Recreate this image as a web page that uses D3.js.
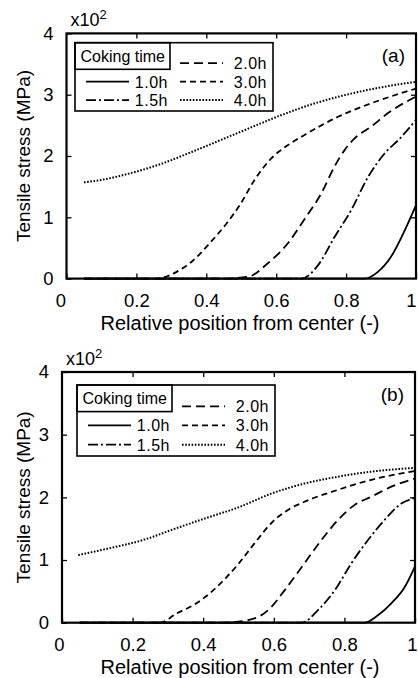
<!DOCTYPE html>
<html>
<head>
<meta charset="utf-8">
<script src="https://cdn.jsdelivr.net/npm/d3@7"></script>
<style>
  body { margin: 0; background: #fff; }
  svg { display: block; }
  text { font-family: "Liberation Sans", Arial, sans-serif; fill: #000; }
</style>
</head>
<body>
<svg id="chart" width="418" height="678"></svg>
<script>
// Series names and tick labels
const seriesNames = ["1.0h", "1.5h", "2.0h", "3.0h", "4.0h"];
const xTicks = [0, 0.2, 0.4, 0.6, 0.8, 1];
const yTicks = [0, 1, 2, 3, 4];

// Panel (a): position (-) and stress (x10^2 MPa)
const posA10 = [0.05, 0.853, 0.891, 0.929, 0.968, 1.0];
const valA10 = [0, 0, 0.11, 0.36, 0.79, 1.20];
const posA15 = [0.05, 0.672, 0.72, 0.767, 0.815, 0.863, 0.91, 0.958, 1.0];
const valA15 = [0, 0, 0.22, 0.68, 1.12, 1.66, 2.04, 2.31, 2.59];
const posA20 = [0.05, 0.45, 0.52, 0.576, 0.634, 0.68, 0.729, 0.767, 0.796, 0.825, 0.872, 0.92, 1.0];
const valA20 = [0, 0, 0.03, 0.25, 0.58, 0.96, 1.39, 1.83, 2.10, 2.29, 2.48, 2.70, 2.97];
const posA30 = [0.05, 0.2, 0.258, 0.315, 0.363, 0.41, 0.458, 0.496, 0.538, 0.586, 0.634, 0.68, 0.777, 0.872, 1.0];
const valA30 = [0, 0, 0, 0.11, 0.30, 0.58, 0.90, 1.20, 1.61, 1.96, 2.18, 2.34, 2.64, 2.86, 3.10];
const posA40 = [0.05, 0.1, 0.17, 0.27, 0.36, 0.5, 0.63, 0.7, 0.78, 0.9, 1.0];
const valA40 = [1.57, 1.61, 1.70, 1.87, 2.07, 2.40, 2.70, 2.84, 2.97, 3.12, 3.21];

// Panel (b)
const posB10 = [0.05, 0.857, 0.895, 0.933, 0.971, 1.0];
const valB10 = [0, 0, 0.12, 0.31, 0.57, 0.90];
const posB15 = [0.05, 0.678, 0.725, 0.773, 0.82, 0.867, 0.914, 0.961, 1.0];
const valB15 = [0, 0, 0.2, 0.52, 0.95, 1.32, 1.64, 1.90, 1.99];
const posB20 = [0.05, 0.45, 0.527, 0.584, 0.631, 0.687, 0.735, 0.782, 0.829, 0.876, 0.933, 1.0];
const valB20 = [0, 0, 0.04, 0.2, 0.52, 0.95, 1.32, 1.64, 1.88, 2.01, 2.17, 2.30];
const posB30 = [0.05, 0.2, 0.278, 0.325, 0.372, 0.419, 0.467, 0.5, 0.546, 0.593, 0.64, 0.687, 0.782, 0.876, 1.0];
const valB30 = [0, 0, 0, 0.15, 0.28, 0.47, 0.73, 0.94, 1.27, 1.59, 1.80, 1.93, 2.12, 2.28, 2.42];
const posB40 = [0.046, 0.136, 0.23, 0.325, 0.419, 0.5, 0.593, 0.687, 0.782, 0.876, 1.0];
const valB40 = [1.08, 1.19, 1.32, 1.51, 1.69, 1.84, 2.06, 2.22, 2.33, 2.41, 2.47];

// line styles, same order as seriesNames
const dashes = ["none", "10,3,2,3", "9,5", "6,4", "1.6,1.6"];

const svg = d3.select("#chart");

function zipSeries(pos, val) {
  return pos.map((p, i) => ({ x: p, y: val[i] }));
}

function drawPanel(opts) {
  const g = svg.append("g");
  const x = d3.scaleLinear().domain([0, 1]).range([opts.left, opts.right]);
  const y = d3.scaleLinear().domain([0, 4]).range([opts.bottom, opts.top]);

  // inward ticks
  const xAxis = g.append("g")
    .attr("transform", `translate(0,${opts.bottom})`)
    .call(d3.axisBottom(x).tickValues(xTicks).tickSizeInner(-5).tickSizeOuter(0).tickPadding(15)
      .tickFormat(d => d === 0 ? "0" : d === 1 ? "1" : d3.format(".1f")(d)));
  xAxis.selectAll("text").attr("font-size", 18.5)
    .attr("dx", d => d === 0 ? opts.dx0 : d === 1 ? opts.dx1 : 0);

  const yAxis = g.append("g")
    .attr("transform", `translate(${opts.left},0)`)
    .call(d3.axisLeft(y).tickValues(yTicks).tickFormat(d3.format("d"))
      .tickSizeInner(-5).tickSizeOuter(0).tickPadding(13));
  yAxis.selectAll("text").attr("font-size", 18.5);

  g.append("g")
    .attr("transform", `translate(0,${opts.top})`)
    .call(d3.axisTop(x).tickValues([0.2, 0.4, 0.6, 0.8]).tickSizeInner(-5).tickSizeOuter(0).tickFormat(""));
  g.append("g")
    .attr("transform", `translate(${opts.right},0)`)
    .call(d3.axisRight(y).tickValues([1, 2, 3]).tickSizeInner(-5).tickSizeOuter(0).tickFormat(""));

  g.selectAll(".domain").remove();
  g.selectAll(".tick line").attr("stroke", "#000").attr("stroke-width", 1.3);

  // curves
  const line = d3.line().x(d => x(d.x)).y(d => y(d.y)).curve(d3.curveMonotoneX);
  opts.series.forEach((s, i) => {
    g.append("path")
      .datum(s)
      .attr("fill", "none")
      .attr("stroke", "#000")
      .attr("stroke-width", i === 4 ? 2 : 1.8)
      .attr("stroke-dasharray", dashes[i])
      .attr("d", line);
  });

  // frame
  g.append("rect")
    .attr("x", opts.left).attr("y", opts.top)
    .attr("width", opts.right - opts.left).attr("height", opts.bottom - opts.top)
    .attr("fill", "none").attr("stroke", "#000").attr("stroke-width", 2.2);

  // legend
  const lg = g.append("g").attr("transform", `translate(${opts.legX},${opts.legY})`);
  lg.append("rect").attr("width", 198).attr("height", opts.legH)
    .attr("fill", "#fff").attr("stroke", "#000").attr("stroke-width", 1.6);
  lg.append("rect").attr("width", 95).attr("height", 26.6)
    .attr("fill", "none").attr("stroke", "#000").attr("stroke-width", 1.6);
  lg.append("text").attr("x", 5.5).attr("y", 19).attr("font-size", 16).text("Coking time");

  const slots = [
    { x: 11, end: 93, y: opts.legH * 0.57 },
    { x: 11, end: 93, y: opts.legH * 0.84 },
    { x: 105, end: 192, y: opts.legH * 0.30 },
    { x: 105, end: 192, y: opts.legH * 0.57 },
    { x: 105, end: 192, y: opts.legH * 0.84 }
  ];
  seriesNames.forEach((name, i) => {
    const s = slots[i];
    lg.append("line")
      .attr("x1", s.x).attr("x2", s.x + 43)
      .attr("y1", s.y).attr("y2", s.y)
      .attr("stroke", "#000").attr("stroke-width", i === 4 ? 2 : 1.8)
      .attr("stroke-dasharray", dashes[i]);
    lg.append("text")
      .attr("x", s.end).attr("y", s.y + 6)
      .attr("text-anchor", "end").attr("font-size", 16)
      .attr("letter-spacing", 0.5)
      .text(name);
  });

  // panel label
  g.append("text").attr("x", opts.right - 11).attr("y", opts.top + 29)
    .attr("text-anchor", "end").attr("font-size", 19).text(opts.label);

  // multiplier
  const m = g.append("text").attr("x", opts.left + 4).attr("y", opts.top - 7).attr("font-size", 18);
  m.append("tspan").text("x10");
  m.append("tspan").attr("font-size", 13).attr("dy", -7).text("2");

  // axis titles
  g.append("text")
    .attr("transform", `translate(29.5,${(opts.top + opts.bottom) / 2}) rotate(-90)`)
    .attr("text-anchor", "middle").attr("font-size", 19)
    .text("Tensile stress (MPa)");
  g.append("text")
    .attr("x", 240).attr("y", opts.bottom + 51.5)
    .attr("text-anchor", "middle").attr("font-size", 20)
    .text("Relative position from center (-)");
}

drawPanel({
  left: 66.5, right: 416, top: 33.4, bottom: 278.6, dx0: -6, dx1: -5,
  legX: 75, legY: 42.7, legH: 68.3, label: "(a)",
  series: [zipSeries(posA10, valA10), zipSeries(posA15, valA15), zipSeries(posA20, valA20),
           zipSeries(posA30, valA30), zipSeries(posA40, valA40)]
});

drawPanel({
  left: 62, right: 415, top: 372, bottom: 622.7, dx0: -3, dx1: -3,
  legX: 77, legY: 385, legH: 71, label: "(b)",
  series: [zipSeries(posB10, valB10), zipSeries(posB15, valB15), zipSeries(posB20, valB20),
           zipSeries(posB30, valB30), zipSeries(posB40, valB40)]
});
</script>
</body>
</html>
